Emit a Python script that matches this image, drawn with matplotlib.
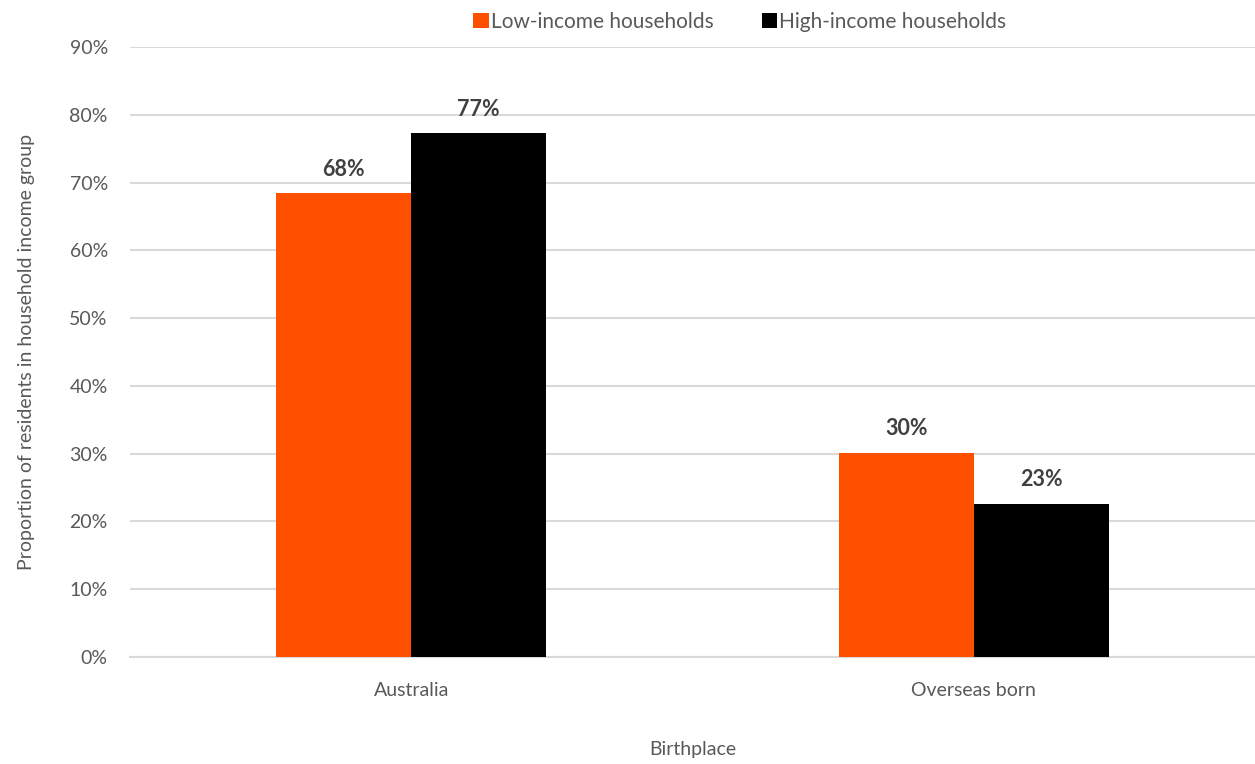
import matplotlib.pyplot as plt
import numpy as np

plt.rcParams['font.family'] = ['Lato', 'DejaVu Sans']

categories = ["Australia", "Overseas born"]
low_income = [68.4, 30.1]
high_income = [77.3, 22.6]
series_names = ["Low-income households", "High-income households"]
tick_vals = [0, 10, 20, 30, 40, 50, 60, 70, 80, 90]

orange = "#FF5000"
text_col = "#595959"

fig = plt.figure(figsize=(12.55, 7.64), dpi=100)
ax = fig.add_axes([0.1036, 0.140, 0.8964, 0.7985])

x = np.arange(len(categories))
w = 0.24
b1 = ax.bar(x - w / 2, low_income, w, color=orange, label=series_names[0], zorder=3)
b2 = ax.bar(x + w / 2, high_income, w, color="black", label=series_names[1], zorder=3)

for bars in (b1, b2):
    for r in bars:
        ax.text(r.get_x() + r.get_width() / 2, r.get_height() + 2.0,
                f"{round(r.get_height()):.0f}%", ha="center", va="bottom",
                fontsize=15.5, fontweight="bold", color="#404040")

ax.set_xlim(-0.5, 1.5)
ax.set_ylim(0, 90)
ax.set_yticks(tick_vals)
ax.set_yticklabels([f"{v}%" for v in tick_vals])
ax.set_xticks(x)
ax.set_xticklabels(categories)
ax.yaxis.grid(True, color="#D9D9D9", linewidth=1.5, zorder=0)
ax.tick_params(axis="both", length=0, labelsize=14, colors=text_col)
ax.tick_params(axis="y", pad=16)
ax.tick_params(axis="x", pad=18)
for s in ["top", "right", "left"]:
    ax.spines[s].set_visible(False)
ax.spines["bottom"].set_color("#D9D9D9")
ax.spines["bottom"].set_linewidth(1.5)

ax.set_xlabel("Birthplace", fontsize=14, color=text_col, labelpad=30)
ax.set_ylabel("Proportion of residents in household income group", fontsize=14,
              color=text_col, labelpad=25)

ax.legend(loc="upper center", bbox_to_anchor=(0.542, 1.088), ncol=2, frameon=False,
          fontsize=15, handlelength=0.75, handleheight=0.75, handletextpad=0.1,
          columnspacing=2.3, labelcolor=text_col)

plt.savefig("out.png", dpi=100)
